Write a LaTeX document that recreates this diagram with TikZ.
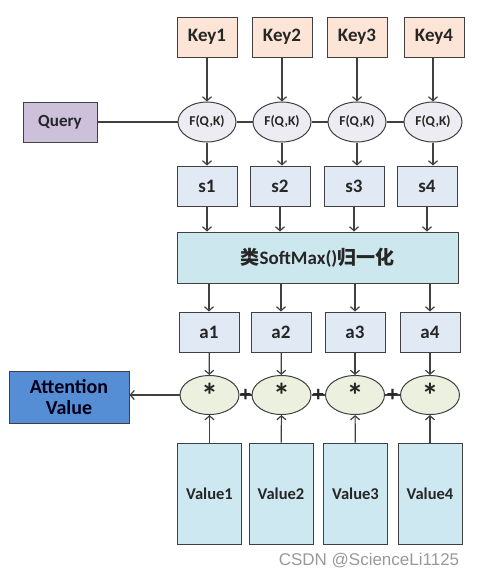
\documentclass[tikz,border=0pt]{standalone}
\usepackage{fontspec}
\setmainfont{Carlito}
\newfontfamily\cjk{Noto Sans CJK SC}
\newfontfamily\wmfont{Liberation Sans}
\usetikzlibrary{shapes.geometric, arrows.meta}

\definecolor{edge}{RGB}{64,64,64}
\definecolor{keyfill}{RGB}{252,229,214}
\definecolor{queryfill}{RGB}{204,192,218}
\definecolor{ffill}{RGB}{238,236,243}
\definecolor{sfill}{RGB}{225,233,245}
\definecolor{smfill}{RGB}{204,232,238}
\definecolor{starfill}{RGB}{235,241,222}
\definecolor{valfill}{RGB}{205,232,240}
\definecolor{attfill}{RGB}{85,142,213}

\begin{document}
\begin{tikzpicture}[x=1pt, y=-1pt,
    box/.style={draw=edge, line width=1pt, inner sep=0pt, text=black!85,
      font=\bfseries\fontsize{19}{22}\selectfont},
    keybox/.style={box, fill=keyfill, minimum width=60pt, minimum height=40pt},
    sbox/.style={box, fill=sfill, minimum width=60pt, minimum height=40pt},
    fnode/.style={box, ellipse, fill=ffill, minimum width=58pt, minimum height=40pt,
      font=\bfseries\fontsize{13.5}{15}\selectfont},
    starnode/.style={box, ellipse, fill=starfill, minimum width=59pt, minimum height=39pt,
      font=\bfseries\fontsize{34}{34}\selectfont},
    plus/.style={font=\bfseries\fontsize{22}{22}\selectfont, text=black!85},
    valbox/.style={box, fill=valfill, minimum width=64pt, minimum height=101pt,
      font=\bfseries\fontsize{16.5}{18}\selectfont},
    arr/.style={draw=edge, line width=1.2pt, -{Straight Barb[length=4pt,width=9pt]}},
    link/.style={draw=edge, line width=1.2pt}]
    \useasboundingbox (0,0) rectangle (481,576);

    % Keys
    \node[keybox] (k1) at (207,37) {Key1};
    \node[keybox] (k2) at (282,37) {Key2};
    \node[keybox] (k3) at (357,37) {Key3};
    \node[keybox] (k4) at (434,37) {Key4};

    % Query and similarity
    \node[box, fill=queryfill, minimum width=74pt, minimum height=40pt,
      font=\bfseries\fontsize{17}{19}\selectfont] (query) at (60,122) {Query};
    \node[fnode] (f1) at (207,122) {F(Q,K)};
    \node[fnode] (f2) at (282,122) {F(Q,K)};
    \node[fnode] (f3) at (357,122) {F(Q,K)};
    \node[fnode] (f4) at (433,122) {F(Q,K)};

    % Scores
    \node[sbox] (s1) at (207,186) {s1};
    \node[sbox] (s2) at (280,186) {s2};
    \node[sbox] (s3) at (354,186) {s3};
    \node[sbox] (s4) at (427,186) {s4};

    % Normalisation
    \node[box, fill=smfill, minimum width=281pt, minimum height=51pt] (sm) at (317.5,257.5)
      {{\cjk\bfseries 类}SoftMax(){\cjk\bfseries 归一化}};

    % Weights
    \node[sbox] (a1) at (209,332) {a1};
    \node[sbox] (a2) at (281,332) {a2};
    \node[sbox] (a3) at (355,332) {a3};
    \node[sbox] (a4) at (430,332) {a4};

    % Weighted values
    \node[starnode] (m1) at (209.5,395) {\raisebox{-8pt}{*}};
    \node[starnode] (m2) at (281.5,395) {\raisebox{-8pt}{*}};
    \node[starnode] (m3) at (355,395) {\raisebox{-8pt}{*}};
    \node[starnode] (m4) at (430,395) {\raisebox{-8pt}{*}};
    \node[valbox] (v1) at (209.5,493.5) {Value1};
    \node[valbox] (v2) at (281,493.5) {Value2};
    \node[valbox] (v3) at (355.5,493.5) {Value3};
    \node[valbox] (v4) at (430,493.5) {Value4};
    \node[box, fill=attfill, minimum width=120pt, minimum height=52pt, align=center,
      font=\bfseries\fontsize{20}{21}\selectfont, text=black!90!blue] (att) at (69,397)
      {Attention\\Value};

    % Label
    \node[font=\wmfont\fontsize{17}{19}\selectfont, text=black!40] (mark) at (369,561)
      {CSDN @ScienceLi1125};

    % Connections
    \draw[link] (query) -- (f1) -- (f2) -- (f3) -- (f4);
    \draw[arr] (k1) -- (k1 |- f1.north);
    \draw[arr] (k2) -- (k2 |- f2.north);
    \draw[arr] (k3) -- (k3 |- f3.north);
    \draw[arr] (k4.south -| f4) -- (f4);
    \draw[arr] (f1) -- (f1 |- s1.north);
    \draw[arr] (f2) -- (f2 |- s2.north);
    \draw[arr] (f3) -- (f3 |- s3.north);
    \draw[arr] (f4) -- (f4 |- s4.north);
    \draw[arr] (s1) -- (s1 |- sm.north);
    \draw[arr] (s2) -- (s2 |- sm.north);
    \draw[arr] (s3) -- (s3 |- sm.north);
    \draw[arr] (s4) -- (s4 |- sm.north);
    \draw[arr] (a1 |- sm.south) -- (a1);
    \draw[arr] (a2 |- sm.south) -- (a2);
    \draw[arr] (a3 |- sm.south) -- (a3);
    \draw[arr] (a4 |- sm.south) -- (a4);
    \draw[arr] (a1) -- (m1);
    \draw[arr] (a2) -- (m2);
    \draw[arr] (a3) -- (m3);
    \draw[arr] (a4) -- (m4);
    \draw[arr] (v1) -- (m1);
    \draw[arr] (v2) -- (m2);
    \draw[arr] (v3) -- (m3);
    \draw[arr] (v4) -- (m4);
    \draw[link] (m1) -- node[plus] (p1) {+} (m2)
      -- node[plus] (p2) {+} (m3)
      -- node[plus] (p3) {+} (m4);
    \draw[arr] (m1.west) -- (m1.west -| att.east);
\end{tikzpicture}
\end{document}
